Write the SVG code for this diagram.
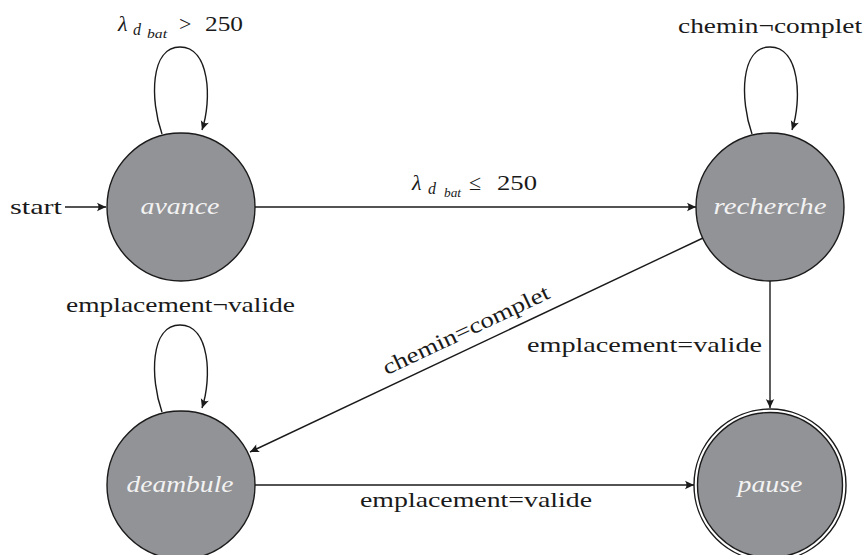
<svg xmlns="http://www.w3.org/2000/svg" width="864" height="555" viewBox="0 0 864 555">
  <defs>
    <marker id="arrow" markerUnits="userSpaceOnUse" markerWidth="14" markerHeight="12" refX="11" refY="6" orient="auto">
      <path d="M11,6 L2,1.8 Q5,6 2,10.2 Z" fill="#1a1a1a"/>
    </marker>
  </defs>

  <!-- states -->
  <g id="avance">
    <circle cx="181" cy="207" r="74" fill="#929396" stroke="#1a1a1a" stroke-width="1.4"/>
    <text x="180" y="214" font-family="Liberation Serif" font-style="italic" font-size="23" fill="#f2f2f2" text-anchor="middle" textLength="79" lengthAdjust="spacingAndGlyphs">avance</text>
  </g>
  <g id="recherche">
    <circle cx="770" cy="207" r="74" fill="#929396" stroke="#1a1a1a" stroke-width="1.4"/>
    <text x="770" y="214" font-family="Liberation Serif" font-style="italic" font-size="23" fill="#f2f2f2" text-anchor="middle" textLength="113" lengthAdjust="spacingAndGlyphs">recherche</text>
  </g>
  <g id="deambule">
    <circle cx="181" cy="485" r="74" fill="#929396" stroke="#1a1a1a" stroke-width="1.4"/>
    <text x="180" y="492" font-family="Liberation Serif" font-style="italic" font-size="23" fill="#f2f2f2" text-anchor="middle" textLength="107" lengthAdjust="spacingAndGlyphs">deambule</text>
  </g>
  <g id="pause">
    <circle cx="770" cy="485" r="76" fill="none" stroke="#1a1a1a" stroke-width="1.4"/>
    <circle cx="770" cy="485" r="72.5" fill="#929396" stroke="#1a1a1a" stroke-width="1.4"/>
    <text x="770" y="492" font-family="Liberation Serif" font-style="italic" font-size="23" fill="#f2f2f2" text-anchor="middle" textLength="65" lengthAdjust="spacingAndGlyphs">pause</text>
  </g>

  <!-- transitions -->
  <g id="edges" fill="none" stroke="#1a1a1a" stroke-width="1.4">
    <path d="M65,207 L106,207" marker-end="url(#arrow)"/>
    <path d="M162,134 C150,100 150,47 180,47 C210,47 212,100 202,130" marker-end="url(#arrow)"/>
    <path d="M255,207 L696,207" marker-end="url(#arrow)"/>
    <path d="M752,134 C740,100 740,47 770,47 C800,47 802,100 792,130" marker-end="url(#arrow)"/>
    <path d="M703,238 L250,452" marker-end="url(#arrow)"/>
    <path d="M770,281 L770,408" marker-end="url(#arrow)"/>
    <path d="M162,412 C150,378 150,325 180,325 C210,325 212,378 202,408" marker-end="url(#arrow)"/>
    <path d="M255,485 L694,485" marker-end="url(#arrow)"/>
  </g>

  <!-- transition labels -->
  <g id="labels" fill="#1a1a1a">
    <text x="10" y="214" font-family="Liberation Serif" font-size="22" textLength="52" lengthAdjust="spacingAndGlyphs">start</text>

    <text x="118" y="31" font-family="Liberation Serif" font-style="italic" font-size="22">λ</text>
    <text x="133" y="35" font-family="Liberation Serif" font-style="italic" font-size="16">d</text>
    <text x="147" y="38" font-family="Liberation Serif" font-style="italic" font-size="12" textLength="20" lengthAdjust="spacingAndGlyphs">bat</text>
    <text x="179" y="31" font-family="Liberation Serif" font-size="22">&gt;</text>
    <text x="205" y="31" font-family="Liberation Serif" font-size="22" textLength="38" lengthAdjust="spacingAndGlyphs">250</text>

    <text x="412" y="190" font-family="Liberation Serif" font-style="italic" font-size="22">λ</text>
    <text x="428" y="194" font-family="Liberation Serif" font-style="italic" font-size="16">d</text>
    <text x="444" y="197" font-family="Liberation Serif" font-style="italic" font-size="12" textLength="17" lengthAdjust="spacingAndGlyphs">bat</text>
    <text x="469" y="190" font-family="Liberation Serif" font-size="22">≤</text>
    <text x="497" y="190" font-family="Liberation Serif" font-size="22" textLength="40" lengthAdjust="spacingAndGlyphs">250</text>

    <text x="678" y="33" font-family="Liberation Serif" font-size="22" textLength="184" lengthAdjust="spacingAndGlyphs">chemin¬complet</text>

    <text transform="translate(469,336.5) rotate(-25.28)" x="0" y="0" font-family="Liberation Serif" font-size="22" text-anchor="middle" textLength="182" lengthAdjust="spacingAndGlyphs">chemin=complet</text>

    <text x="527" y="352" font-family="Liberation Serif" font-size="22" textLength="235" lengthAdjust="spacingAndGlyphs">emplacement=valide</text>

    <text x="66" y="312" font-family="Liberation Serif" font-size="22" textLength="229" lengthAdjust="spacingAndGlyphs">emplacement¬valide</text>

    <text x="360" y="507" font-family="Liberation Serif" font-size="22" textLength="232" lengthAdjust="spacingAndGlyphs">emplacement=valide</text>
  </g>
</svg>
